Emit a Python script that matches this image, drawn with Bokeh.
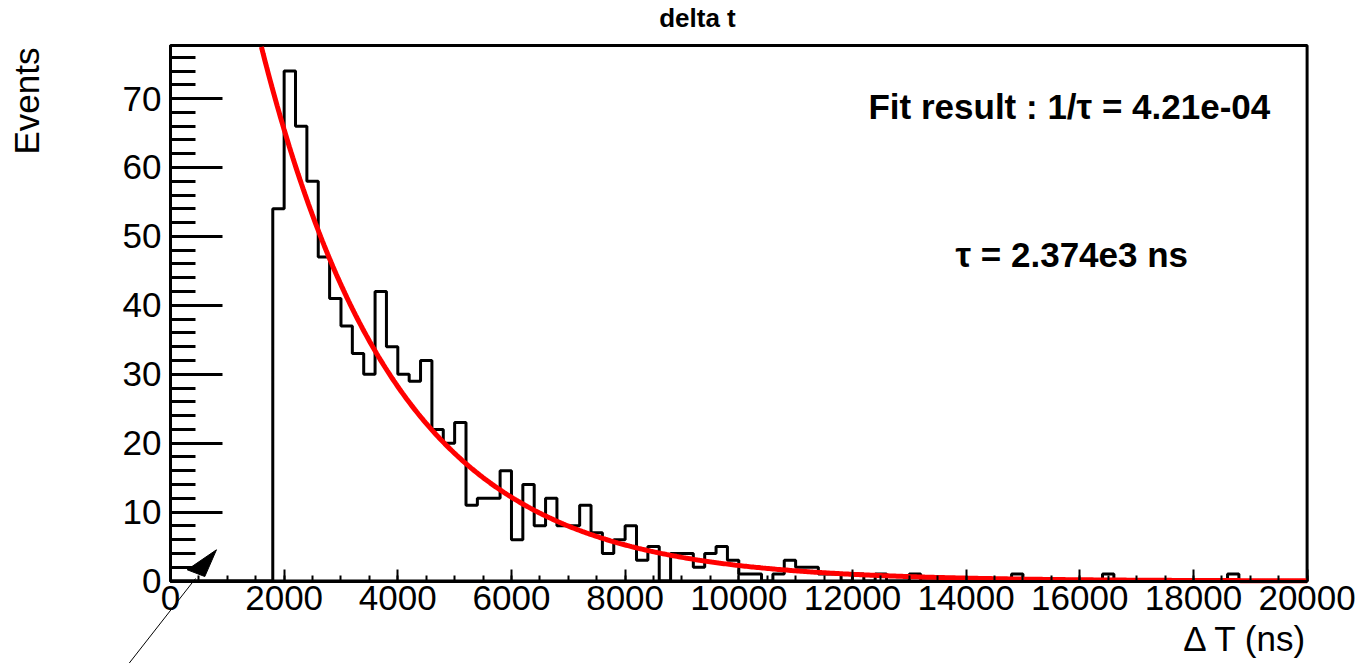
import numpy as np
from bokeh.plotting import figure
from bokeh.models import Range1d, SingleIntervalTicker, Label, Arrow, BasicTickFormatter
from bokeh.embed import file_html
from bokeh.resources import INLINE

# ---------------- data ----------------
x_min, x_max = 0, 20000
y_max = 77.7
counts = [
    0, 0, 0, 0, 0, 0, 0, 0, 0, 54,        # 0 - 2000
    74, 66, 58, 47, 41, 37, 33, 30, 42, 34,  # 2000 - 4000
    30, 29, 32, 22, 20, 23, 11, 12, 12, 16,  # 4000 - 6000
    6, 14, 8, 12, 8, 8, 11, 7, 4, 6,         # 6000 - 8000
    8, 3, 5, 0, 4, 4, 2, 4, 5, 3,            # 8000 - 10000
    1, 1, 0, 1, 3, 2, 2, 1, 1, 0,            # 10000 - 12000
    1, 0, 1, 0, 0, 1, 0, 0, 0, 0,            # 12000 - 14000
    0, 0, 0, 0, 1, 0, 0, 0, 0, 0,            # 14000 - 16000
    0, 0, 1, 0, 0, 0, 0, 0, 0, 0,            # 16000 - 18000
    0, 0, 0, 1, 0, 0, 0, 0, 0, 0,            # 18000 - 20000
]
# fit: A * exp(-x / tau), 1/tau = 4.21e-04
fit_amplitude = 152.0
fit_rate = 4.21e-4
fit_range = (1600, 20000)

title_text = "delta t"
x_title = "\u0394 T (ns)"
y_title = "Events"
fit_line1 = "Fit result : 1/\u03c4 = 4.21e-04"
fit_line2 = "\u03c4 = 2.374e3 ns"

# arrow (TArrow drawn on the pad)
arrow_line = dict(x_start=-734, y_start=-12.0, x_end=440, y_end=0.36)
arrow_head_x = [294, 809, 604]
arrow_head_y = [1.63, 4.53, 0.65]

# ---------------- figure ----------------
W, H = 1364, 663
FONT = "Liberation Sans"
# pad: the whole canvas; the histogram frame spans x_min..x_max, 0..y_max
pad_x = (-2991, 21010)
pad_y = (-11.97, 84.23)

p = figure(width=W, height=H, x_range=Range1d(*pad_x), y_range=Range1d(*pad_y),
           output_backend="svg", toolbar_location=None, title_location=None,
           min_border=0, min_border_left=0, min_border_right=0,
           min_border_top=0, min_border_bottom=0)
p.background_fill_color = "white"
p.border_fill_color = "white"
p.outline_line_color = None
p.xgrid.visible = False
p.ygrid.visible = False

xa = p.xaxis[0]
xa.fixed_location = 0
xa.bounds = (x_min, x_max)
xa.ticker = SingleIntervalTicker(interval=2000, num_minor_ticks=4)
xa.formatter = BasicTickFormatter(use_scientific=False)
xa.axis_line_width = 3
xa.major_tick_in = 12
xa.major_tick_out = 0
xa.minor_tick_in = 6
xa.minor_tick_out = 0
xa.major_tick_line_width = 2
xa.minor_tick_line_width = 2
xa.major_label_text_font = FONT
xa.major_label_text_font_size = "35px"
xa.major_label_text_color = "black"
xa.major_label_standoff = 5

ya = p.yaxis[0]
ya.fixed_location = 0
ya.bounds = (0, y_max)
ya.ticker = SingleIntervalTicker(interval=10, num_minor_ticks=5)
ya.axis_line_width = 3
ya.major_tick_in = 52
ya.major_tick_out = 0
ya.minor_tick_in = 25
ya.minor_tick_out = 0
ya.major_tick_line_width = 3
ya.minor_tick_line_width = 3
ya.major_label_text_font = FONT
ya.major_label_text_font_size = "35px"
ya.major_label_text_color = "black"
ya.major_label_standoff = 9

# histogram frame box
p.quad(left=[x_min], right=[x_max], bottom=[0], top=[y_max], fill_color=None,
       line_color="black", line_width=3)

# histogram outline
n_bins = len(counts)
edges = np.linspace(x_min, x_max, n_bins + 1)
p.step(x=edges, y=np.append(counts, counts[-1]), mode="after", line_color="black", line_width=3)

# fit curve
xf = np.linspace(fit_range[0], fit_range[1], 600)
yf = fit_amplitude * np.exp(-fit_rate * xf)
p.line(xf, yf, line_color="#ff0000", line_width=5)

# arrow
p.add_layout(Arrow(end=None, line_color="black", line_width=1, **arrow_line))
p.patch(arrow_head_x, arrow_head_y, fill_color="black", line_color="black", line_width=1)

# texts
p.add_layout(Label(x=9273, y=81.62, text=title_text, text_font=FONT, text_font_size="26px",
                   text_font_style="bold", text_align="center", text_baseline="alphabetic",
                   text_color="black"))
p.add_layout(Label(x=12282, y=68.78, text=fit_line1, text_font=FONT, text_font_size="35px",
                   text_font_style="bold", text_align="left", text_baseline="alphabetic",
                   text_color="black"))
p.add_layout(Label(x=13813, y=47.37, text=fit_line2, text_font=FONT, text_font_size="35px",
                   text_font_style="bold", text_align="left", text_baseline="alphabetic",
                   text_color="black"))
p.add_layout(Label(x=20010, y=-8.34, text=x_title, text_font=FONT, text_font_size="35px",
                   text_align="right", text_baseline="alphabetic", text_color="black"))
p.add_layout(Label(x=-2534, y=77.41, text=y_title, text_font=FONT, text_font_size="35px",
                   angle=np.pi / 2, text_align="right", text_baseline="alphabetic",
                   text_color="black"))

open("out.html", "w").write(file_html(p, INLINE))
